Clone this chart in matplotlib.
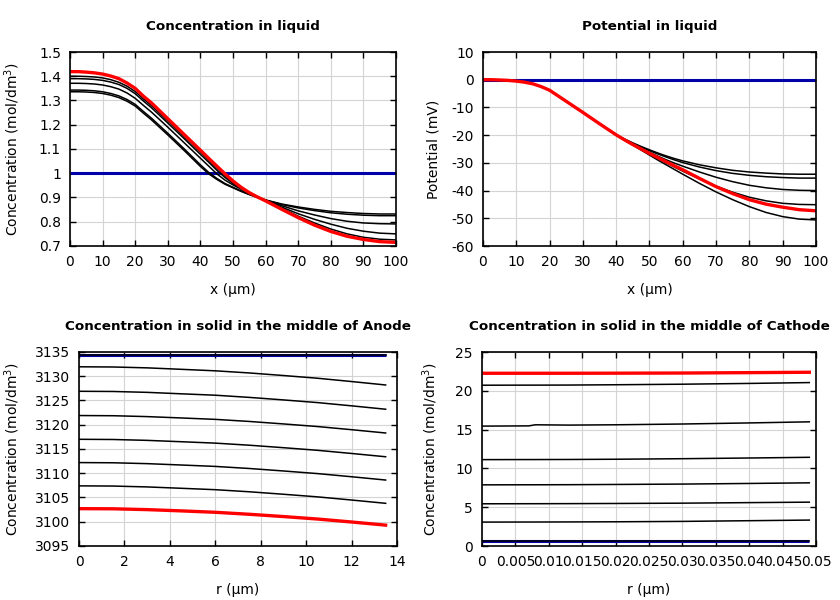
import matplotlib
matplotlib.use("Agg")
import matplotlib.pyplot as plt
from matplotlib.ticker import FuncFormatter

# ---------------- data ----------------
x_liq = [0, 2.5, 5, 7.5, 10, 12.5, 15, 17.5, 20, 22.5, 25, 30, 35, 40, 42.5, 45, 47.5,
         50, 52.5, 55, 57.5, 60, 65, 70, 75, 80, 85, 90, 95, 100]

c_liq_init = [1.0] * len(x_liq)
c_liq_black = [
    [1.336, 1.336, 1.335, 1.333, 1.329, 1.322, 1.312, 1.297, 1.277, 1.248, 1.220, 1.158, 1.094, 1.028, 0.998, 0.975, 0.955,
     0.940, 0.925, 0.912, 0.900, 0.890, 0.873, 0.861, 0.851, 0.843, 0.838, 0.834, 0.832, 0.832],
    [1.343, 1.343, 1.342, 1.340, 1.336, 1.329, 1.319, 1.304, 1.284, 1.255, 1.227, 1.165, 1.101, 1.035, 1.004, 0.979, 0.958,
     0.942, 0.927, 0.913, 0.900, 0.889, 0.871, 0.857, 0.846, 0.837, 0.831, 0.827, 0.825, 0.825],
    [1.371, 1.371, 1.370, 1.368, 1.364, 1.357, 1.347, 1.331, 1.309, 1.280, 1.252, 1.190, 1.126, 1.062, 1.030, 0.998, 0.972,
     0.952, 0.934, 0.918, 0.903, 0.889, 0.866, 0.845, 0.828, 0.813, 0.802, 0.795, 0.792, 0.791],
    [1.390, 1.390, 1.389, 1.387, 1.383, 1.376, 1.366, 1.350, 1.328, 1.298, 1.270, 1.207, 1.143, 1.078, 1.046, 1.013, 0.983,
     0.958, 0.937, 0.919, 0.903, 0.888, 0.860, 0.833, 0.810, 0.790, 0.773, 0.761, 0.753, 0.750],
    [1.400, 1.400, 1.399, 1.397, 1.393, 1.386, 1.375, 1.359, 1.337, 1.307, 1.279, 1.216, 1.152, 1.087, 1.055, 1.022, 0.990,
     0.962, 0.940, 0.920, 0.903, 0.887, 0.855, 0.823, 0.795, 0.770, 0.750, 0.736, 0.728, 0.725],
]
c_liq_final = [1.419, 1.419, 1.417, 1.414, 1.409, 1.401, 1.390, 1.372, 1.350, 1.318, 1.290, 1.225, 1.160, 1.095, 1.062, 1.030, 0.998,
               0.968, 0.942, 0.920, 0.902, 0.886, 0.851, 0.817, 0.786, 0.760, 0.740, 0.727, 0.718, 0.715]

phi_init = [0.0] * len(x_liq)
phi_black = [
    [0.0, 0.0, -0.1, -0.25, -0.5, -0.9, -1.5, -2.5, -3.8, -5.8, -7.8, -11.8, -15.9, -19.8, -21.4, -22.8, -24.1,
     -25.3, -26.45, -27.5, -28.45, -29.3, -30.7, -31.8, -32.7, -33.3, -33.7, -34.0, -34.1, -34.1],
    [0.0, 0.0, -0.1, -0.25, -0.5, -0.9, -1.5, -2.5, -3.8, -5.8, -7.8, -11.8, -15.9, -19.9, -21.5, -23.0, -24.35,
     -25.6, -26.8, -27.9, -28.95, -29.9, -31.5, -32.8, -33.8, -34.5, -35.0, -35.3, -35.5, -35.5],
    [0.0, 0.0, -0.1, -0.25, -0.5, -0.9, -1.5, -2.5, -3.8, -5.8, -7.8, -11.8, -15.9, -20.0, -21.7, -23.3, -24.8,
     -26.2, -27.6, -28.9, -30.1, -31.2, -33.3, -35.2, -36.8, -38.1, -39.0, -39.6, -39.9, -40.0],
    [0.0, 0.0, -0.1, -0.25, -0.5, -0.9, -1.5, -2.5, -3.8, -5.8, -7.8, -11.8, -15.9, -20.0, -21.8, -23.5, -25.2,
     -26.8, -28.4, -30.0, -31.5, -33.0, -35.8, -38.4, -40.6, -42.4, -43.7, -44.6, -45.0, -45.1],
    [0.0, 0.0, -0.1, -0.25, -0.5, -0.9, -1.5, -2.5, -3.8, -5.8, -7.8, -11.8, -15.9, -20.0, -21.8, -23.6, -25.4,
     -27.2, -29.0, -30.7, -32.4, -34.1, -37.4, -40.5, -43.3, -45.8, -47.9, -49.4, -50.3, -50.6],
]
phi_final = [0.0, 0.0, -0.1, -0.25, -0.5, -0.9, -1.5, -2.5, -3.8, -5.8, -7.8, -11.8, -15.9, -19.9, -21.7, -23.4, -25.0,
             -26.6, -28.1, -29.6, -31.1, -32.5, -35.6, -38.6, -41.1, -43.3, -44.9, -46.0, -46.9, -47.3]

r_an = [0, 1.5, 3, 4.5, 6, 7.5, 9, 10.5, 12, 13.5]
c_an_init = [3134.35] * len(r_an)
c_an_black = [
    [3134.35] * 10,
    [3131.95, 3131.91, 3131.73, 3131.43, 3131.12, 3130.68, 3130.15, 3129.59, 3128.91, 3128.20],
    [3126.90, 3126.86, 3126.68, 3126.38, 3126.09, 3125.64, 3125.12, 3124.57, 3123.90, 3123.20],
    [3121.90, 3121.86, 3121.68, 3121.40, 3121.11, 3120.68, 3120.17, 3119.63, 3118.98, 3118.30],
    [3117.00, 3116.96, 3116.78, 3116.50, 3116.21, 3115.78, 3115.27, 3114.73, 3114.08, 3113.40],
    [3112.20, 3112.16, 3111.98, 3111.70, 3111.41, 3110.98, 3110.47, 3109.93, 3109.28, 3108.60],
    [3107.40, 3107.36, 3107.18, 3106.90, 3106.61, 3106.18, 3105.67, 3105.13, 3104.48, 3103.80],
]
c_an_final = [3102.70, 3102.67, 3102.50, 3102.24, 3101.95, 3101.54, 3101.07, 3100.56, 3099.95, 3099.30]

r_ca = [0, 0.007, 0.008, 0.013, 0.02, 0.03, 0.04, 0.049]
c_ca_init = [0.69] * len(r_ca)
c_ca_black = [
    [0.69, 0.69, 0.69, 0.69, 0.69, 0.69, 0.69, 0.69],
    [3.08, 3.09, 3.09, 3.10, 3.12, 3.17, 3.26, 3.34],
    [5.44, 5.45, 5.45, 5.46, 5.48, 5.52, 5.59, 5.65],
    [7.88, 7.89, 7.89, 7.90, 7.93, 7.98, 8.06, 8.14],
    [11.13, 11.14, 11.14, 11.15, 11.18, 11.25, 11.34, 11.43],
    [15.45, 15.48, 15.62, 15.58, 15.62, 15.72, 15.86, 16.00],
    [20.72, 20.73, 20.73, 20.74, 20.78, 20.85, 20.95, 21.06],
]
c_ca_final = [22.26, 22.26, 22.26, 22.26, 22.27, 22.29, 22.34, 22.39]

ca_ticks = [0, 0.005, 0.01, 0.015, 0.02, 0.025, 0.03, 0.035, 0.04, 0.045, 0.05]

BLUE = "#0000a8"
RED = "#ff0000"

plt.rcParams["font.family"] = "DejaVu Sans"
plt.rcParams["font.size"] = 10
plt.rcParams["axes.unicode_minus"] = False

fig = plt.figure(figsize=(8.4, 6.0), dpi=100)

def style(ax):
    ax.grid(True, color="#d4d4d4", linewidth=0.8)
    ax.set_axisbelow(True)
    ax.tick_params(direction="in", top=True, right=True, length=4, width=1, labelsize=10, pad=6.5)
    for s in ax.spines.values():
        s.set_linewidth(1.2)
    ax.yaxis.set_major_formatter(FuncFormatter(lambda v, p: "%g" % round(v, 6)))

def draw(ax, x, init, blacks, final):
    ax.plot(x, init, color=BLUE, lw=2.2, solid_capstyle="butt")
    for b in blacks:
        ax.plot(x, b, color="black", lw=1.1)
    ax.plot(x, final, color=RED, lw=2.4)

def labels(ax, title, xl, yl, ylx, xly):
    ax.set_title(title, fontweight="bold", fontsize=9.7, pad=15.5)
    ax.set_xlabel(xl)
    ax.set_ylabel(yl)
    ax.yaxis.set_label_coords(ylx, 0.5)
    ax.xaxis.set_label_coords(0.5, xly)

# top-left
ax1 = fig.add_axes([70/840, 1-246/600, 326/840, 194/600])
draw(ax1, x_liq, c_liq_init, c_liq_black, c_liq_final)
ax1.set_xlim(0, 100); ax1.set_ylim(0.7, 1.5)
ax1.set_xticks(range(0, 101, 10))
ax1.set_yticks([0.7, 0.8, 0.9, 1.0, 1.1, 1.2, 1.3, 1.4, 1.5])
style(ax1)
ax1.xaxis.set_major_formatter(FuncFormatter(lambda v, p: "%g" % v))
labels(ax1, "Concentration in liquid", "x (µm)", "Concentration (mol/dm$^3$)", -0.147, -0.19)

# top-right
ax2 = fig.add_axes([483/840, 1-246/600, 333/840, 194/600])
draw(ax2, x_liq, phi_init, phi_black, phi_final)
ax2.set_xlim(0, 100); ax2.set_ylim(-60, 10)
ax2.set_xticks(range(0, 101, 10))
ax2.set_yticks(range(-60, 11, 10))
style(ax2)
ax2.xaxis.set_major_formatter(FuncFormatter(lambda v, p: "%g" % v))
labels(ax2, "Potential in liquid", "x (µm)", "Potential (mV)", -0.129, -0.19)

# bottom-left
ax3 = fig.add_axes([79/840, 1-546/600, 318/840, 194/600])
draw(ax3, r_an, c_an_init, c_an_black, c_an_final)
ax3.set_xlim(0, 14); ax3.set_ylim(3095, 3135)
ax3.set_xticks(range(0, 15, 2))
ax3.set_yticks(range(3095, 3136, 5))
style(ax3)
ax3.xaxis.set_major_formatter(FuncFormatter(lambda v, p: "%g" % v))
labels(ax3, "Concentration in solid in the middle of Anode", "r (µm)", "Concentration (mol/dm$^3$)", -0.179, -0.19)

# bottom-right
ax4 = fig.add_axes([482/840, 1-546/600, 334/840, 194/600])
draw(ax4, r_ca, c_ca_init, c_ca_black, c_ca_final)
ax4.set_xlim(0, 0.05); ax4.set_ylim(0, 25)
ax4.set_xticks(ca_ticks)
ax4.set_yticks(range(0, 26, 5))
style(ax4)
ax4.set_xticklabels(["%g" % t for t in ca_ticks])
labels(ax4, "Concentration in solid in the middle of Cathode", "r (µm)", "Concentration (mol/dm$^3$)", -0.126, -0.19)

fig.savefig("out.png", dpi=100)
